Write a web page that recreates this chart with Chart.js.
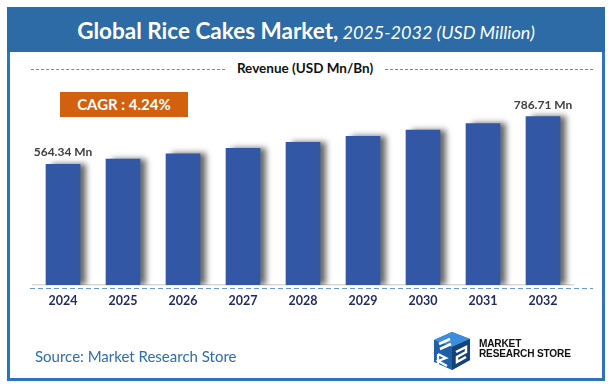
<!DOCTYPE html>
<html>
<head>
<meta charset="utf-8">
<script src="https://cdn.jsdelivr.net/npm/chart.js@4.4.1/dist/chart.umd.min.js"></script>
<style>
  html, body { margin: 0; padding: 0; background: #ffffff; }
  body { width: 610px; height: 389px; position: relative; overflow: hidden; font-family: Lato, "Noto Sans", sans-serif; }
  #frame { position: absolute; left: 7px; top: 8px; width: 592px; height: 370px; border: 3px solid #2E75B6; border-top: none; box-sizing: content-box; }
  #titlebar { position: absolute; left: 7px; top: 7px; width: 598px; height: 45px; background: #2D6BA7; color: #fff; text-align: center; line-height: 48px; white-space: nowrap; }
  #titlebar .b { font-weight: bold; font-size: 22.5px; }
  #titlebar .i { font-style: italic; font-size: 18px; }
  #chartwrap { position: absolute; left: 0; top: 0; width: 610px; height: 389px; }
  #legend { position: absolute; left: 0; top: 59px; width: 610px; height: 18px; }
  #legend .dl { position: absolute; top: 10px; height: 0; border-top: 1.5px dashed #5B8BD0; }
  #legend .t { position: absolute; left: 225px; width: 160px; top: 0; text-align: center; font-weight: bold; font-size: 13.5px; color: #111; line-height: 18px; }
  #cagr { position: absolute; left: 60px; top: 92px; width: 128px; height: 25px; background: #D2600F; color: #fff; font-weight: bold; font-size: 15px; text-align: center; line-height: 25px; }
  #source { position: absolute; left: 35px; top: 347px; font-size: 15px; color: #2E6DB0; white-space: nowrap; }
  #logo { position: absolute; left: 430px; top: 330px; width: 150px; height: 42px; }
  #logo .txt { position: absolute; left: 49px; top: 9px; font-family: "Liberation Sans", Arial, sans-serif; font-weight: bold; font-size: 11px; line-height: 9.5px; color: #111; letter-spacing: -0.2px; transform: scaleX(0.92); transform-origin: left top; white-space: nowrap; }
</style>
</head>
<body>
<div id="frame"></div>
<div id="titlebar"><span class="b">Global Rice Cakes Market,</span><span class="i"> 2025-2032 (USD Million)</span></div>
<div id="legend">
  <div class="dl" style="left:31px;width:194px;"></div>
  <div class="t">Revenue (USD Mn/Bn)</div>
  <div class="dl" style="left:385px;width:208px;"></div>
</div>
<div id="chartwrap"><canvas id="c" width="610" height="389"></canvas></div>
<div id="cagr">CAGR : 4.24%</div>
<div id="source">Source: Market Research Store</div>
<div id="logo">
  <svg width="46" height="42" viewBox="0 0 46 42">
    <polygon points="4,10 22,2 40,9 40,30 22,40 4,32" fill="#1F5FA8"/>
    <polygon points="4,10 22,2 40,9 22,17" fill="#3C8DDB"/>
    <polygon points="22,17 40,9 40,30 22,40" fill="#16427A"/>
    <path d="M9,14 L20,9 M10,19 L21,14 M26,22 L36,17 L36,22 L27,27 L27,32 L36,27" stroke="#ffffff" stroke-width="2.5" fill="none"/>
    <path d="M8,24 L8,34 M8,24 L16,28 L8,31 L17,36" stroke="#ffffff" stroke-width="2.2" fill="none"/>
  </svg>
  <div class="txt">MARKET<br>RESEARCH STORE</div>
</div>
<script>
const years = ["2024","2025","2026","2027","2028","2029","2030","2031","2032"];
const revenue = [564.34, 588.27, 613.20, 639.20, 666.30, 694.55, 724.00, 754.70, 786.71];
const labelUnit = " Mn";

const shadowPlugin = {
  id: 'barShadow',
  beforeDatasetDraw(chart) {
    const ctx = chart.ctx;
    ctx.save();
    ctx.shadowColor = 'rgba(0,0,0,0.6)';
    ctx.shadowBlur = 6;
    ctx.shadowOffsetX = 6;
    ctx.shadowOffsetY = 0;
  },
  afterDatasetDraw(chart) {
    chart.ctx.restore();
  }
};

const extrasPlugin = {
  id: 'extras',
  afterDraw(chart) {
    const ctx = chart.ctx;
    const meta = chart.getDatasetMeta(0);
    const yBase = chart.scales.y.getPixelForValue(0);
    ctx.save();
    ctx.strokeStyle = '#6A95D6';
    ctx.lineWidth = 1.2;
    ctx.setLineDash([5, 3]);
    ctx.beginPath();
    ctx.moveTo(30, yBase + 3.5);
    ctx.lineTo(593, yBase + 3.5);
    ctx.stroke();
    ctx.restore();
    ctx.save();
    ctx.font = 'bold 12px Lato, "Noto Sans", sans-serif';
    ctx.fillStyle = '#404040';
    ctx.textAlign = 'center';
    ctx.textBaseline = 'middle';
    [0, revenue.length - 1].forEach(i => {
      const el = meta.data[i];
      ctx.fillText(revenue[i].toFixed(2) + labelUnit, el.x, el.y - 12);
    });
    ctx.restore();
  }
};

new Chart(document.getElementById('c'), {
  type: 'bar',
  data: {
    labels: years,
    datasets: [{
      data: revenue,
      backgroundColor: '#3258A5',
      borderWidth: 0,
      barThickness: 34
    }]
  },
  options: {
    responsive: false,
    animation: false,
    events: [],
    layout: { padding: { left: 33, right: 37, top: 71, bottom: 73 } },
    plugins: { legend: { display: false }, tooltip: { enabled: false } },
    scales: {
      x: {
        grid: { display: false, drawTicks: false },
        border: { display: true, color: '#D9D9D9', width: 1.5 },
        ticks: { color: '#1F2A5E', font: { family: 'Lato, "Noto Sans", sans-serif', weight: 'bold', size: 12.5 }, padding: 8 }
      },
      y: {
        display: false,
        min: 0,
        max: 1000
      }
    }
  },
  plugins: [shadowPlugin, extrasPlugin]
});
</script>
</body>
</html>
